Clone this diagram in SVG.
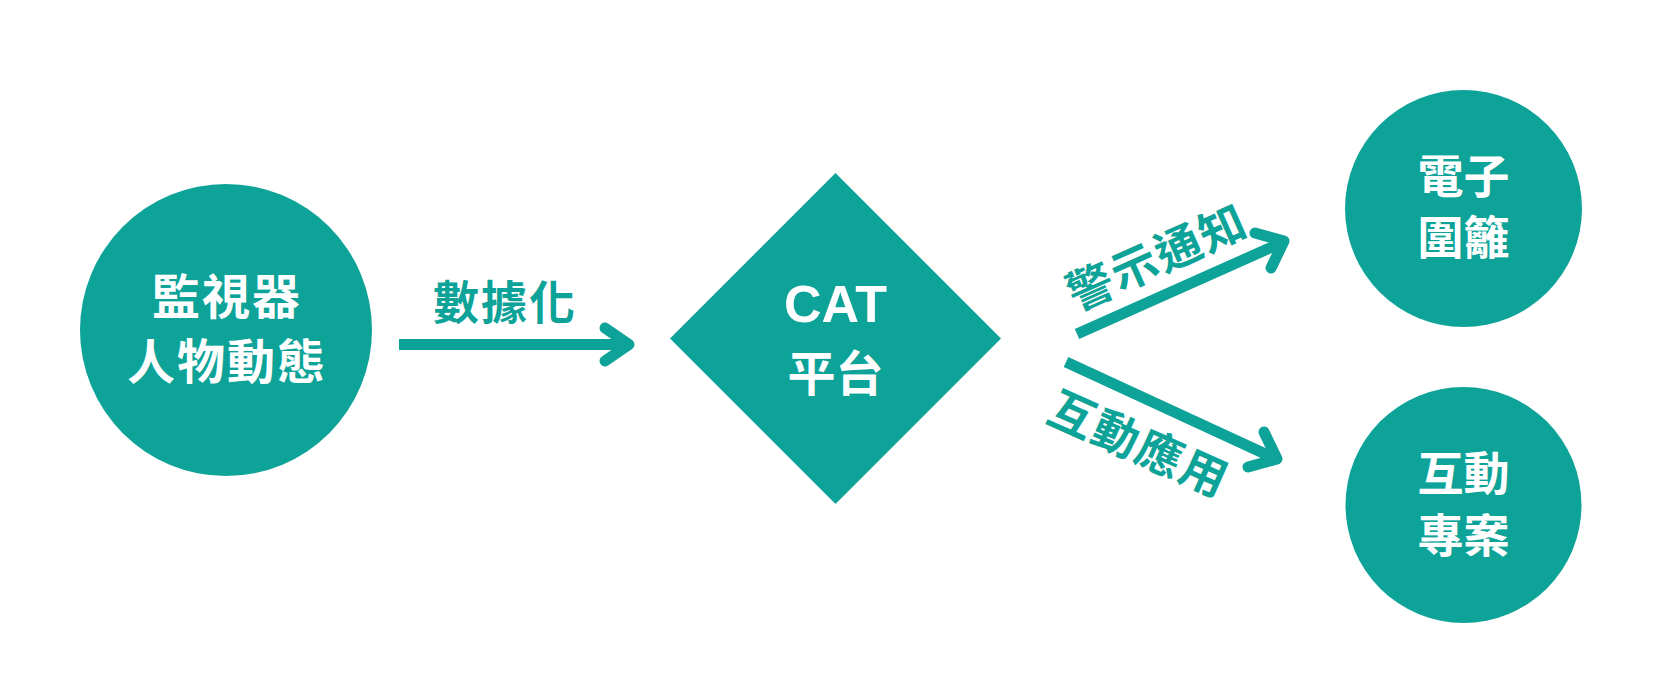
<svg xmlns="http://www.w3.org/2000/svg" width="1662" height="690" viewBox="0 0 1662 690">
<style>
.shape{fill:#0ea398}
.wt{fill:#ffffff;font-family:"Noto Sans CJK TC","Noto Sans CJK SC",sans-serif;font-weight:700;text-anchor:middle}
.lab{fill:#0ea398;font-family:"Noto Sans CJK TC","Noto Sans CJK SC",sans-serif;font-weight:700;font-size:46px;text-anchor:middle;letter-spacing:2px}
.ln{fill:none;stroke:#0ea398;stroke-width:11}
.hd{fill:none;stroke:#0ea398;stroke-width:11;stroke-linecap:round;stroke-linejoin:round}
</style>
<rect width="1662" height="690" fill="#ffffff"/>
<g id="connectors">
<path class="ln" d="M399 344.5 H626"/>
<path class="hd" d="M605 328 L629 344.5 L605 361"/>
<path class="ln" d="M1077 334 L1281 243"/>
<path class="hd" d="M1255 233 L1284 241 L1271 268"/>
<path class="ln" d="M1066 362 L1274 458"/>
<path class="hd" d="M1264 432 L1277 459 L1248 467"/>
<text class="lab" x="505" y="319">數據化</text>
<text class="lab" transform="translate(1157,257) rotate(-24)" x="0" y="17">警示通知</text>
<text class="lab" transform="translate(1139,444) rotate(24)" x="0" y="17">互動應用</text>
</g>
<g id="node-monitor">
<circle class="shape" cx="226" cy="330" r="146"/>
<text class="wt" font-size="48" letter-spacing="2" x="227" y="314">監視器</text>
<text class="wt" font-size="48" letter-spacing="2" x="227" y="379">人物動態</text>
</g>
<g id="node-cat">
<polygon class="shape" points="835.5,173 1001,338.5 835.5,504 670,338.5"/>
<text class="wt" font-family="Liberation Sans, Arial, sans-serif" style="font-family:'Liberation Sans',Arial,sans-serif" font-size="52" x="835.5" y="322">CAT</text>
<text class="wt" font-size="48" x="835.5" y="391">平台</text>
</g>
<g id="node-fence">
<circle class="shape" cx="1463.5" cy="208.5" r="118.5"/>
<text class="wt" font-size="46" x="1463.5" y="193">電子</text>
<text class="wt" font-size="46" x="1463.5" y="254">圍籬</text>
</g>
<g id="node-project">
<circle class="shape" cx="1463.5" cy="505" r="118"/>
<text class="wt" font-size="46" x="1463.5" y="490">互動</text>
<text class="wt" font-size="46" x="1463.5" y="552">專案</text>
</g>
</svg>
